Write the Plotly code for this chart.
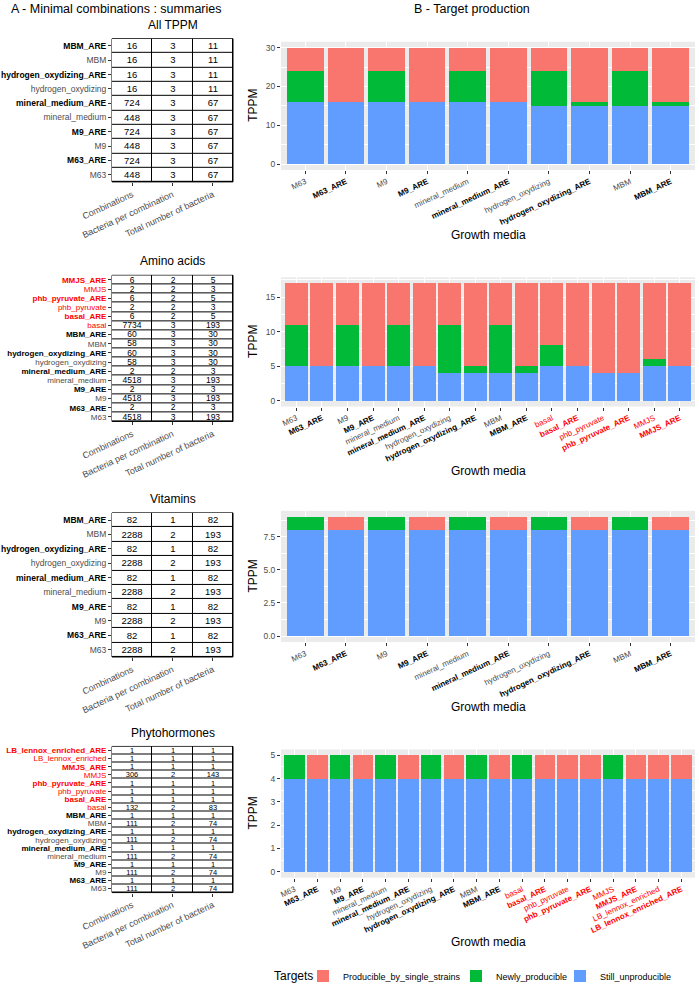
import plotly.graph_objects as go

# growth media (same order for bars, and bottom-to-top for tables)
media_base = ["M63", "M63_ARE", "M9", "M9_ARE", "mineral_medium", "mineral_medium_ARE",
              "hydrogen_oxydizing", "hydrogen_oxydizing_ARE", "MBM", "MBM_ARE"]
media_amino = media_base + ["basal", "basal_ARE", "phb_pyruvate", "phb_pyruvate_ARE", "MMJS", "MMJS_ARE"]
media_vit = list(media_base)
media_phyto = media_amino + ["LB_lennox_enriched", "LB_lennox_enriched_ARE"]

table_columns = ["Combinations", "Bacteria per combination", "Total number of bacteria"]

# All TPPM
tppm_comb = [448, 724, 448, 724, 448, 724, 16, 16, 16, 16]
tppm_bact = [3, 3, 3, 3, 3, 3, 3, 3, 3, 3]
tppm_total = [67, 67, 67, 67, 67, 67, 11, 11, 11, 11]
tppm_still = [16, 16, 16, 16, 16, 16, 15, 15, 15, 15]
tppm_newly = [8, 0, 8, 0, 8, 0, 9, 1, 9, 1]
tppm_single = [6, 14, 6, 14, 6, 14, 6, 14, 6, 14]

# Amino acids
amino_comb = [4518, 2, 4518, 2, 4518, 2, 58, 60, 58, 60, 7734, 6, 2, 6, 2, 6]
amino_bact = [3, 2, 3, 2, 3, 2, 3, 3, 3, 3, 3, 2, 2, 2, 2, 2]
amino_total = [193, 3, 193, 3, 193, 3, 30, 30, 30, 30, 193, 5, 3, 5, 3, 5]
amino_still = [5, 5, 5, 5, 5, 5, 4, 4, 4, 4, 5, 5, 4, 4, 5, 5]
amino_newly = [6, 0, 6, 0, 6, 0, 7, 1, 7, 1, 3, 0, 0, 0, 1, 0]
amino_single = [6, 12, 6, 12, 6, 12, 6, 12, 6, 12, 9, 12, 13, 13, 11, 12]

# Vitamins
vit_comb = [2288, 82, 2288, 82, 2288, 82, 2288, 82, 2288, 82]
vit_bact = [2, 1, 2, 1, 2, 1, 2, 1, 2, 1]
vit_total = [193, 82, 193, 82, 193, 82, 193, 82, 193, 82]
vit_still = [8, 8, 8, 8, 8, 8, 8, 8, 8, 8]
vit_newly = [1, 0, 1, 0, 1, 0, 1, 0, 1, 0]
vit_single = [0, 1, 0, 1, 0, 1, 0, 1, 0, 1]

# Phytohormones
phyto_comb = [111, 1, 111, 1, 111, 1, 111, 1, 111, 1, 132, 1, 1, 1, 306, 1, 1, 1]
phyto_bact = [2, 1, 2, 1, 2, 1, 2, 1, 2, 1, 2, 1, 1, 1, 2, 1, 1, 1]
phyto_total = [74, 1, 74, 1, 74, 1, 74, 1, 74, 1, 83, 1, 1, 1, 143, 1, 1, 1]
phyto_still = [4] * 18
phyto_newly = [1, 0, 1, 0, 1, 0, 1, 0, 1, 0, 1, 0, 0, 0, 1, 0, 0, 0]
phyto_single = [0, 1, 0, 1, 0, 1, 0, 1, 0, 1, 0, 1, 1, 1, 0, 1, 1, 1]

W, H = 699, 991
RED, GREEN, BLUE = "#F8766D", "#00BA38", "#619CFF"
FONT = "Liberation Sans"

panels = [
    dict(title="All TPPM", media=media_base, comb=tppm_comb, bact=tppm_bact, total=tppm_total,
         still=tppm_still, newly=tppm_newly, single=tppm_single, dtick=10, fmt="d",
         table_px=(39, 183), bar_px=(42, 171)),
    dict(title="Amino acids", media=media_amino, comb=amino_comb, bact=amino_bact, total=amino_total,
         still=amino_still, newly=amino_newly, single=amino_single, dtick=5, fmt="d",
         table_px=(277, 424), bar_px=(279, 409)),
    dict(title="Vitamins", media=media_vit, comb=vit_comb, bact=vit_bact, total=vit_total,
         still=vit_still, newly=vit_newly, single=vit_single, dtick=2.5, fmt=".1f",
         table_px=(516, 661), bar_px=(514, 646)),
    dict(title="Phytohormones", media=media_phyto, comb=phyto_comb, bact=phyto_bact, total=phyto_total,
         still=phyto_still, newly=phyto_newly, single=phyto_single, dtick=1, fmt="d",
         table_px=(751, 898), bar_px=(754, 883)),
]

red_media = ("basal", "phb_pyruvate", "MMJS", "LB_lennox")


def label(m):
    bold = m.endswith("_ARE")
    txt = f"<b>{m}</b>" if bold else m
    if m.startswith(red_media):
        col = "red"
    elif bold:
        col = "black"
    else:
        col = "#4D4D4D"
    return f"<span style='color:{col}'>{txt}</span>"


def ydom(top, bottom):
    return [1 - bottom / H, 1 - top / H]


table_x = [112 / W, 233 / W]
bar_x = [281 / W, 695 / W]

# legend keys: (trace name, colour, legend id, key centre px)
series = [("Still_unproducible", BLUE, "legend3", 584),
          ("Newly_producible", GREEN, "legend2", 480),
          ("Producible_by_single_strains", RED, "legend", 327)]
series_key = {"Still_unproducible": "still", "Newly_producible": "newly",
              "Producible_by_single_strains": "single"}

fig = go.Figure()
shapes, annotations = [], []
layout_axes = {}

for i, p in enumerate(panels):
    kt, kb = 2 * i + 1, 2 * i + 2
    xt = "x" if kt == 1 else f"x{kt}"
    yt = "y" if kt == 1 else f"y{kt}"
    xb, yb = f"x{kb}", f"y{kb}"
    media = p["media"]
    n = len(media)
    tight = n > 12
    # cell text shrinks with the row height of the table
    row_h = (p["table_px"][1] - p["table_px"][0]) / n
    cell_size = min(9.5, round(row_h * 0.9 * 2) / 2)
    ymax = max(s + a + b for s, a, b in zip(p["still"], p["newly"], p["single"]))

    # summary table
    fig.add_trace(go.Heatmap(
        x=table_columns, y=media,
        z=[[0, 0, 0] for _ in media],
        text=[[c, b, t] for c, b, t in zip(p["comb"], p["bact"], p["total"])],
        texttemplate="%{text}",
        textfont=dict(size=cell_size, color="black", family=FONT),
        colorscale=[[0, "white"], [1, "white"]], zmin=0, zmax=1, showscale=False,
        xgap=1, ygap=1, hoverinfo="skip", xaxis=xt, yaxis=yt, showlegend=False))
    shapes.append(dict(type="rect", xref=f"{xt} domain", yref=f"{yt} domain",
                       x0=0, x1=1, y0=0, y1=1, fillcolor="black",
                       line=dict(color="black", width=1), layer="below"))

    # stacked bars
    for name, col, leg, _ in series:
        fig.add_trace(go.Bar(x=media, y=p[series_key[name]], name=name,
                             marker=dict(color=col, line=dict(width=0)),
                             legend=leg, showlegend=(i == 0), xaxis=xb, yaxis=yb))

    tick_common = dict(ticks="outside", ticklen=3, tickwidth=1, tickcolor="#333333",
                       showline=False, zeroline=False, automargin=False)
    layout_axes["xaxis" if kt == 1 else f"xaxis{kt}"] = dict(
        domain=table_x, anchor=yt, type="category", range=[-0.5, 2.5], showgrid=False,
        tickangle=-25, tickfont=dict(size=9, color="#4D4D4D"), **tick_common)
    layout_axes["yaxis" if kt == 1 else f"yaxis{kt}"] = dict(
        domain=ydom(*p["table_px"]), anchor=xt, type="category", range=[-0.5, n - 0.5],
        showgrid=False, tickmode="array", tickvals=media, ticktext=[label(m) for m in media],
        tickfont=dict(size=8 if tight else 8.5), **tick_common)
    layout_axes[f"xaxis{kb}"] = dict(
        domain=bar_x, anchor=yb, type="category", range=[-0.6, n - 0.4],
        showgrid=True, gridcolor="white", gridwidth=1,
        tickmode="array", tickvals=media, ticktext=[label(m) for m in media],
        tickangle=-25, tickfont=dict(size=8), **tick_common)
    layout_axes[f"yaxis{kb}"] = dict(
        domain=ydom(*p["bar_px"]), anchor=xb, range=[-0.05 * ymax, 1.05 * ymax],
        tick0=0, dtick=p["dtick"], tickformat=p["fmt"], showgrid=True, gridcolor="white",
        gridwidth=1, minor=dict(dtick=p["dtick"] / 2, showgrid=True, gridcolor="white", gridwidth=0.5),
        tickfont=dict(size=8.5, color="#4D4D4D"), **tick_common)

    ttop, tbot = p["table_px"]
    btop, bbot = p["bar_px"]
    annotations += [
        dict(text=p["title"], x=(table_x[0] + table_x[1]) / 2, y=1 - (ttop - 14) / H,
             xref="paper", yref="paper", showarrow=False, font=dict(size=12, color="black"),
             xanchor="center", yanchor="middle"),
        dict(text="TPPM", x=253 / W, y=1 - (btop + bbot) / 2 / H, xref="paper", yref="paper",
             showarrow=False, textangle=-90, font=dict(size=12, color="black"),
             xanchor="center", yanchor="middle"),
        dict(text="Growth media", x=(bar_x[0] + bar_x[1]) / 2, y=1 - (bbot + 65) / H,
             xref="paper", yref="paper", showarrow=False, font=dict(size=12, color="black"),
             xanchor="center", yanchor="middle"),
    ]

annotations += [
    dict(text="A - Minimal combinations : summaries", x=116 / W, y=1 - 9 / H, xref="paper",
         yref="paper", showarrow=False, font=dict(size=12.5, color="black"),
         xanchor="center", yanchor="middle"),
    dict(text="B - Target production", x=472 / W, y=1 - 9 / H, xref="paper", yref="paper",
         showarrow=False, font=dict(size=12.5, color="black"), xanchor="center", yanchor="middle"),
    dict(text="Targets", x=293 / W, y=1 - 982 / H, xref="paper", yref="paper",
         showarrow=False, font=dict(size=12, color="black"), xanchor="center", yanchor="middle"),
]

legends = {}
for name, col, leg, centre in series:
    legends[leg] = dict(orientation="h", x=(centre - 24) / W, xanchor="left", y=1 - 982 / H,
                        yanchor="middle", font=dict(size=9), bgcolor="rgba(0,0,0,0)")

fig.update_layout(
    width=W, height=H, autosize=False,
    margin=dict(l=0, r=0, t=0, b=0),
    paper_bgcolor="white", plot_bgcolor="#EBEBEB",
    font=dict(family=FONT, color="black"),
    barmode="stack", bargap=0.1,
    shapes=shapes, annotations=annotations,
    **legends,
    **layout_axes,
)

# drop the browser's default 8px body margin so the figure sits at the window origin
fig.write_html("out.html", config={"displayModeBar": False},
               post_script="document.body.style.margin='0';document.body.style.overflow='hidden';")
